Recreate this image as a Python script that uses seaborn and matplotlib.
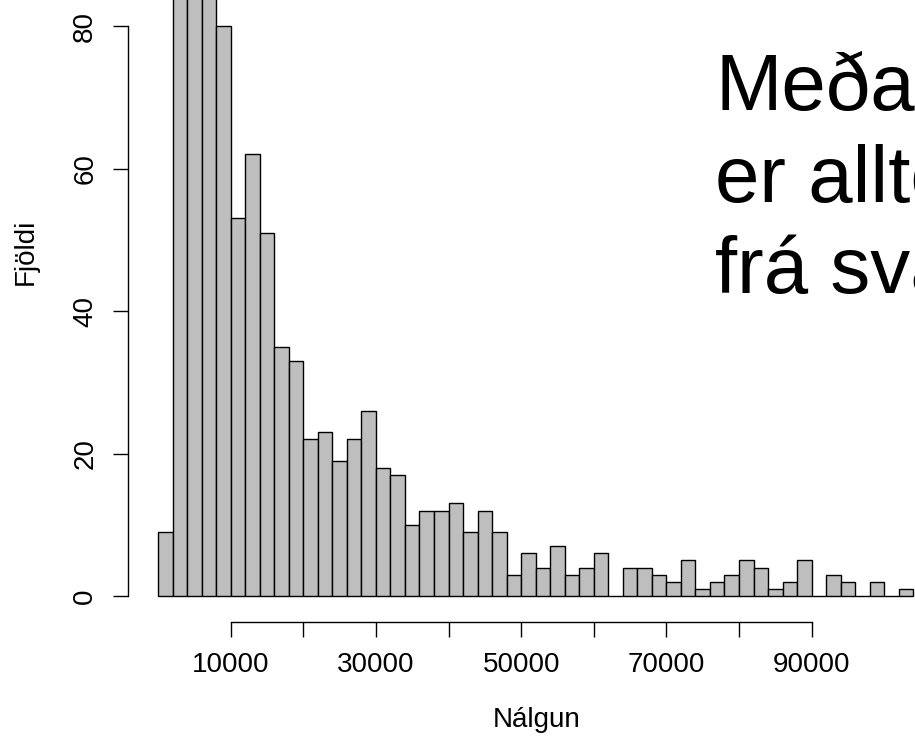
import numpy as np
import pandas as pd
import matplotlib as mpl
mpl.use("Agg")
import matplotlib.pyplot as plt
import seaborn as sns

# ------------------------------------------------------------
# Data (bin width 2000)
# ------------------------------------------------------------
BIN_LEFT = [0, 2000, 4000, 6000, 8000, 10000, 12000, 14000, 16000, 18000,
            20000, 22000, 24000, 26000, 28000, 30000, 32000, 34000, 36000, 38000,
            40000, 42000, 44000, 46000, 48000, 50000, 52000, 54000, 56000, 58000,
            60000, 62000, 64000, 66000, 68000, 70000, 72000, 74000, 76000, 78000,
            80000, 82000, 84000, 86000, 88000, 90000, 92000, 94000, 96000, 98000,
            100000, 102000]
COUNTS = [9, 88, 95, 91, 80, 53, 62, 51, 35, 33,
          22, 23, 19, 22, 26, 18, 17, 10, 12, 12,
          13, 9, 12, 9, 3, 6, 4, 7, 3, 4,
          6, 0, 4, 4, 3, 2, 5, 1, 2, 3,
          5, 4, 1, 2, 5, 0, 3, 2, 0, 2,
          0, 1]
BIN_WIDTH = 2000

XTICKS = [10000, 20000, 30000, 40000, 50000, 60000, 70000, 80000, 90000]
XTICKLABELS = ["10000", "", "30000", "", "50000", "", "70000", "", "90000"]
YTICKS = [0, 20, 40, 60, 80]

XLABEL = "Nálgun"
YLABEL = "Fjöldi"
OVERLAY = ["Meðaltalið", "er alltof langt", "frá svarinu"]

W, H = 915, 737
FONT = 20

# ------------------------------------------------------------
# Plot
# ------------------------------------------------------------
sns.set_style("white")
plt.rcParams["font.family"] = ["Liberation Sans", "DejaVu Sans"]
plt.rcParams["text.color"] = "black"
plt.rcParams["xtick.color"] = "black"
plt.rcParams["ytick.color"] = "black"
plt.rcParams["axes.labelcolor"] = "black"

df = pd.DataFrame({"x": np.array(BIN_LEFT) + BIN_WIDTH / 2, "n": COUNTS})
edges = list(BIN_LEFT) + [BIN_LEFT[-1] + BIN_WIDTH]

fig = plt.figure(figsize=(W / 100, H / 100), dpi=100)
ax = fig.add_axes([128 / W, 115 / H, (W - 128) / W, (H - 115) / H])

sns.histplot(data=df, x="x", weights="n", bins=edges, ax=ax,
             color="#bebebe", edgecolor="black", linewidth=1.0, alpha=1)

# pixel mapping (x=0 at px 158, 2000 per 14.525 px;
# y=0 at px 596, 20 per 142.5 px)
ax.set_xlim((128 - 158) / (14.525 / 2000), (W - 158) / (14.525 / 2000))
ax.set_ylim((596 - 622) / 7.125, 596 / 7.125)

for s in ["top", "right"]:
    ax.spines[s].set_visible(False)
ax.spines["left"].set_bounds(0, 80)
ax.spines["bottom"].set_bounds(10000, 90000)
for s in ["left", "bottom"]:
    ax.spines[s].set_linewidth(1.0)
    ax.spines[s].set_color("black")

ax.set_xticks(XTICKS)
ax.set_xticklabels(XTICKLABELS)
ax.set_yticks(YTICKS)
ax.set_yticklabels([str(v) for v in YTICKS])
ax.tick_params(axis="both", direction="out", length=10.5, width=1.0,
               color="black", labelcolor="black", labelsize=FONT, pad=11,
               left=True, bottom=True)
ax.tick_params(axis="y", labelrotation=90)
for lab in ax.get_yticklabels():
    lab.set_va("center")

ax.set_xlabel("")
ax.set_ylabel("")
fig.text(537 / W, 1 - 720 / H, XLABEL, ha="center", va="center",
         fontsize=FONT, color="black")
fig.text(26 / W, 1 - 252 / H, YLABEL, ha="center", va="center",
         rotation=90, fontsize=FONT, color="black")

# big overlay text, clipped by the right edge as in the reference
for txt, base in zip(OVERLAY, [110, 202, 293]):
    fig.text(715 / W, 1 - base / H, txt, ha="left", va="baseline",
             fontsize=57.5, color="black")

fig.savefig("out.png", dpi=100)
plt.close(fig)
